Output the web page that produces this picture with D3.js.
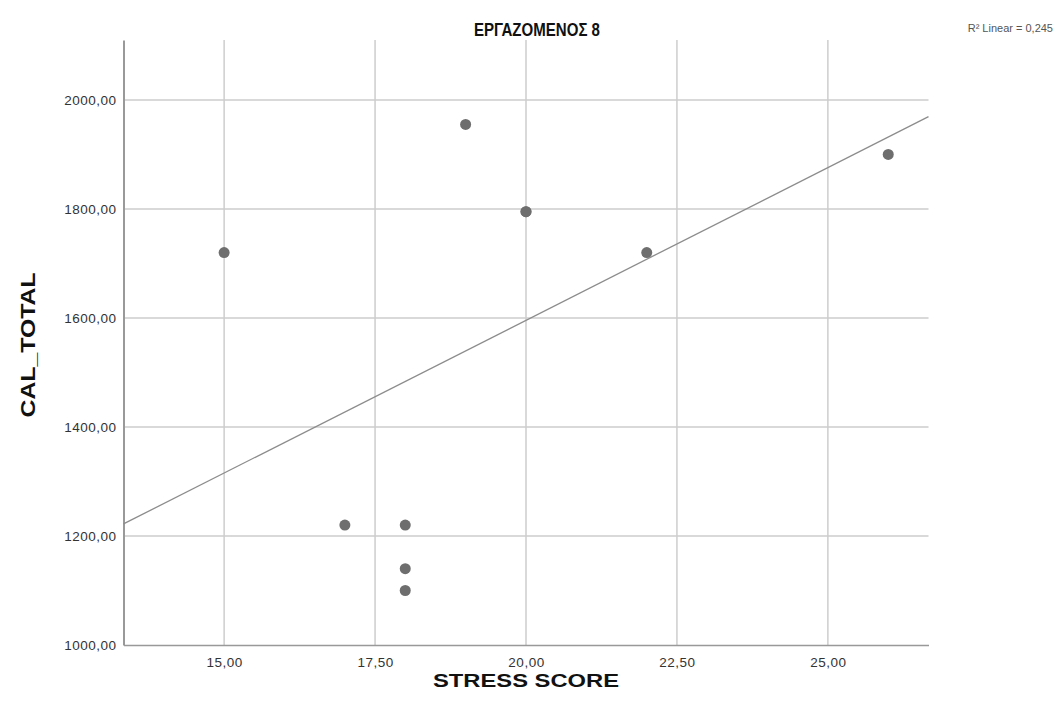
<!DOCTYPE html>
<html>
<head>
<meta charset="utf-8">
<script src="https://cdn.jsdelivr.net/npm/d3@7"></script>
<style>
  body { margin: 0; background: #fff; }
  svg { display: block; font-family: Arial, "Liberation Sans", sans-serif; }
</style>
</head>
<body>
<svg id="chart" width="1061" height="721"></svg>
<script>
// Data (note: (20, 1795) occurs twice, overlapping)
const stressScore = [15, 17, 18, 18, 18, 19, 20, 20, 22, 26];
const calTotal    = [1720, 1220, 1220, 1140, 1100, 1955, 1795, 1795, 1720, 1900];
const xTicks = [15, 17.5, 20, 22.5, 25];
const yTicks = [1000, 1200, 1400, 1600, 1800, 2000];
const titleText = "ΕΡΓΑΖΟΜΕΝΟΣ 8";
const xLabel = "STRESS SCORE";
const yLabel = "CAL_TOTAL";

const svg = d3.select("#chart");
const pLeft = 123.5, pRight = 928.5, pTop = 40, pBottom = 645;

const x = d3.scaleLinear().domain([13.3333, 26.6667]).range([pLeft, pRight]);
const y = d3.scaleLinear().domain([1000, 2110]).range([pBottom, pTop]);

const loc = d3.formatLocale({decimal: ",", thousands: "", grouping: [3], currency: ["", ""]});
const fmt = loc.format(".2f");

// Gridlines
svg.append("g").selectAll("line").data(xTicks).join("line")
  .attr("x1", d => x(d)).attr("x2", d => x(d))
  .attr("y1", pTop).attr("y2", pBottom)
  .attr("stroke", "#cdcdcd").attr("stroke-width", 1.5);
svg.append("g").selectAll("line").data(yTicks.filter(d => d > 1000)).join("line")
  .attr("x1", pLeft).attr("x2", pRight)
  .attr("y1", d => y(d)).attr("y2", d => y(d))
  .attr("stroke", "#cdcdcd").attr("stroke-width", 1.5);

// Axes
const xAxis = d3.axisBottom(x).tickValues(xTicks).tickFormat(fmt).tickSize(0).tickPadding(12);
const gx = svg.append("g").attr("transform", `translate(0,${pBottom})`).call(xAxis);
gx.select(".domain").attr("stroke", "#999").attr("stroke-width", 1.5);
gx.selectAll("text").attr("font-size", 13.5).attr("letter-spacing", 0.5).attr("fill", "#333")
  .attr("font-family", "Arial, 'Liberation Sans', sans-serif");

const yAxis = d3.axisLeft(y).tickValues(yTicks).tickFormat(fmt).tickSize(0).tickPadding(7);
const gy = svg.append("g").attr("transform", `translate(${pLeft},0)`).call(yAxis);
gy.select(".domain").attr("stroke", "#999").attr("stroke-width", 2);
gy.selectAll("text").attr("font-size", 13.5).attr("letter-spacing", 0.5).attr("fill", "#333")
  .attr("font-family", "Arial, 'Liberation Sans', sans-serif");

// Regression line
const n = stressScore.length;
const mx = d3.mean(stressScore), my = d3.mean(calTotal);
let sxy = 0, sxx = 0, syy = 0;
for (let i = 0; i < n; i++) {
  sxy += (stressScore[i] - mx) * (calTotal[i] - my);
  sxx += (stressScore[i] - mx) ** 2;
  syy += (calTotal[i] - my) ** 2;
}
const b = sxy / sxx, a = my - b * mx;
const r2 = (sxy * sxy) / (sxx * syy);
const [x0, x1] = x.domain();
svg.append("line")
  .attr("x1", x(x0)).attr("y1", y(a + b * x0))
  .attr("x2", x(x1)).attr("y2", y(a + b * x1))
  .attr("stroke", "#8c8c8c").attr("stroke-width", 1.3);

// Points
svg.append("g").selectAll("circle").data(stressScore.map((d, i) => [d, calTotal[i]])).join("circle")
  .attr("cx", d => x(d[0])).attr("cy", d => y(d[1])).attr("r", 5.5)
  .attr("fill", "#6e6e6e");

// Title
svg.append("text").attr("x", 537).attr("y", 36).attr("text-anchor", "middle")
  .attr("font-size", 18).attr("font-weight", "bold").attr("fill", "#111")
  .attr("textLength", 126).attr("lengthAdjust", "spacingAndGlyphs").text(titleText);

// R2 label
svg.append("text").attr("x", 1053).attr("y", 32).attr("text-anchor", "end")
  .attr("font-size", 11).attr("fill", "#555")
  .text("R² Linear = " + loc.format(".3f")(r2));

// Axis titles
svg.append("text").attr("x", 526).attr("y", 687).attr("text-anchor", "middle")
  .attr("font-size", 19).attr("font-weight", "bold").attr("fill", "#111")
  .attr("textLength", 186).attr("lengthAdjust", "spacingAndGlyphs").text(xLabel);
svg.append("text").attr("transform", "translate(35,345) rotate(-90)").attr("text-anchor", "middle")
  .attr("font-size", 21).attr("font-weight", "bold").attr("fill", "#111")
  .attr("textLength", 145).attr("lengthAdjust", "spacingAndGlyphs").text(yLabel);
</script>
</body>
</html>
